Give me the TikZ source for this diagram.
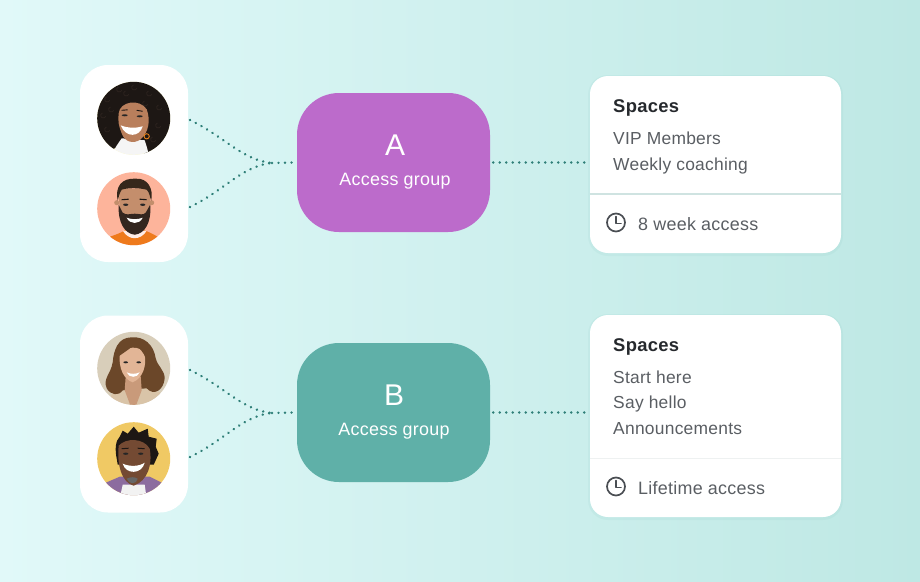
\documentclass[tikz,border=0pt]{standalone}
\usepackage{fontspec}
\setmainfont[LetterSpace=1.5]{Liberation Sans}
\usetikzlibrary{calc,decorations.markings}
\definecolor{bgL}{HTML}{E1F9F9}
\definecolor{bgM}{HTML}{D8F5F3}
\definecolor{bgR}{HTML}{BEE8E4}
\definecolor{dotc}{HTML}{2F7F78}
\definecolor{purp}{HTML}{BC6BCB}
\definecolor{tealc}{HTML}{5FB0A8}
\definecolor{body}{HTML}{5A5E63}
\definecolor{headc}{HTML}{26292D}
\definecolor{clockc}{HTML}{4A4E53}
\definecolor{divA}{HTML}{CFE3E1}
\definecolor{divB}{HTML}{EEF1F1}
\definecolor{hairK}{HTML}{1D1714}
\definecolor{hairT}{HTML}{2E2420}
\definecolor{skinA}{HTML}{B97F5C}
\definecolor{skinB}{HTML}{C48E6C}
\definecolor{skinC}{HTML}{E2B596}
\definecolor{skinCd}{HTML}{C99A7A}
\definecolor{skinD}{HTML}{744A33}
\definecolor{peach}{HTML}{FDB49B}
\definecolor{oranges}{HTML}{EE7A1C}
\definecolor{sand}{HTML}{D8CEBA}
\definecolor{brownh}{HTML}{6B4729}
\definecolor{blazer}{HTML}{D9C4A8}
\definecolor{mustard}{HTML}{F0C964}
\definecolor{plum}{HTML}{8C6C9F}
\definecolor{beardc}{HTML}{33261F}
\tikzset{
  x=1pt,y=-1pt,
  avatarbox/.style={fill=white,rounded corners=28pt,minimum width=108pt,minimum height=197pt,inner sep=0pt},
  groupbox/.style={rounded corners=42pt,minimum width=193pt,minimum height=139pt,inner sep=0pt},
  cardbox/.style={fill=white,rounded corners=18pt,minimum width=251pt,inner sep=0pt},
  cardshade/.style={fill=tealc,opacity=.07,rounded corners=20pt,minimum width=255pt,inner sep=0pt},
  dotline/.style={decoration={markings,mark=between positions 0 and 1 step 6.5pt with {\fill[dotc] (0,0) circle (1.35pt);}},decorate},
  letter/.style={anchor=base,text=white,font=\fontsize{30}{32}\selectfont,inner sep=0pt},
  grouplabel/.style={anchor=base,text=white,font=\fontsize{17.9}{20}\selectfont,inner sep=0pt},
  head/.style={anchor=base west,text=headc,font=\fontsize{18.4}{22}\selectfont\bfseries,inner sep=0pt},
  item/.style={anchor=base west,text=body,font=\fontsize{17.4}{22}\selectfont,inner sep=0pt},
  footitem/.style={anchor=base west,text=body,font=\fontsize{17.9}{22}\selectfont,inner sep=0pt},
  clockring/.style={draw=clockc,line width=1.7pt,circle,minimum size=18pt,inner sep=0pt},
  clockhand/.style={draw=clockc,line width=1.5pt,line cap=round,line join=round},
  eye/.style={fill=black!85},
}
\begin{document}
\begin{tikzpicture}
\useasboundingbox (0,0) rectangle (920,581);
\shade[left color=bgL,middle color=bgM,right color=bgR] (0,0) rectangle (920,581);

% containers
\node[avatarbox] (avA) at (134,163.5) {};
\node[avatarbox] (avB) at (134,414) {};

% connector ends
\coordinate (a1) at (190,120);
\coordinate (a2) at (190,207);
\coordinate (b1) at (190,370);
\coordinate (b2) at (190,457);
\coordinate (ja) at (272,163);
\coordinate (jb) at (272,413);
\node[cardshade,minimum height=181pt] (shA) at (715.5,165.5) {};
\node[cardshade,minimum height=206pt] (shB) at (715.5,417) {};
\node[cardbox,minimum height=177pt] (cardA) at (715.5,164.5) {};
\node[cardbox,minimum height=202pt] (cardB) at (715.5,416) {};
\node[groupbox,fill=purp] (grpA) at (393.5,162.5) {};
\node[groupbox,fill=tealc] (grpB) at (393.5,412.5) {};
\path[dotline] (a1) .. controls (225,137) and (242,160) .. (ja);
\path[dotline] (a2) .. controls (225,190) and (242,166) .. (ja);
\path[dotline] (ja) -- ($(grpA.west)+(-1,0)$);
\path[dotline] (b1) .. controls (225,387) and (242,410) .. (jb);
\path[dotline] (b2) .. controls (225,440) and (242,416) .. (jb);
\path[dotline] (jb) -- ($(grpB.west)+(-1,0)$);
\path[dotline] ($(grpA.east)+(3,0)$) -- (cardA.west |- grpA.east);
\path[dotline] ($(grpB.east)+(3,0)$) -- (cardB.west |- grpB.east);

% group labels
\node[letter] (la) at (395,155) {A};
\node[grouplabel] (ta) at (395,185) {Access group};
\node[letter] (lb) at (394,405) {B};
\node[grouplabel] (tb) at (394,435.5) {Access group};

% card A
\node[head] (sa) at (613,112) {Spaces};
\node[item] (a1t) at (613,144.5) {VIP Members};
\node[item] (a2t) at (613,170) {Weekly coaching};
\draw[divA,line width=1.2pt] (cardA.west |- 0,194) -- (cardA.east |- 0,194);
\node[clockring] (ca) at (616,222.5) {};
\draw[clockhand] (616,216.5) -- (616,223.5) -- (621,223.5);
\node[footitem] (a3t) at (638,230) {8 week access};

% card B
\node[head] (sb) at (613,351) {Spaces};
\node[item] (b1t) at (613,383) {Start here};
\node[item] (b2t) at (613,408) {Say hello};
\node[item] (b3t) at (613,434) {Announcements};
\draw[divB,line width=1pt] (cardB.west |- 0,458) -- (cardB.east |- 0,458);
\node[clockring] (cb) at (616,486.5) {};
\draw[clockhand] (616,480.5) -- (616,487.5) -- (621,487.5);
\node[footitem] (b4t) at (638,494) {Lifetime access};

% portrait 1
\begin{scope}[shift={(133.7,118.3)}]
\clip (0,0) circle (36.5);
\fill[yellow!25!white] (-40,-40) rectangle (40,40);
\fill[hairK] (-38,20) .. controls (-44,-20) and (-25,-40) .. (-2,-40) .. controls (25,-42) and (42,-18) .. (39,12) .. controls (38,28) and (30,36) .. (18,36) -- (-18,30) .. controls (-28,32) and (-36,28) .. (-38,20) -- cycle;
\foreach \hx/\hy in {-24/-18,-12/-28,3/-30,18/-24,28/-10,27/8,-28/-2,-24/12,22/22,-5/-24,14/-14,-20/-8}
  \draw[hairT,line width=.7pt] (\hx,\hy) arc (20:250:2.6);
\fill[white!92!gray] (-22,40) .. controls (-20,30) and (-16,26) .. (-12,20) -- (11,22) .. controls (13,28) and (14,32) .. (16,40) -- cycle;
\fill[skinA] (-15,-5) .. controls (-14,-17) and (6,-20) .. (13,-9) .. controls (17,2) and (15,14) .. (7,21) .. controls (0,26) and (-9,24) .. (-12,15) .. controls (-15,8) and (-16,2) .. (-15,-5) -- cycle;
\fill[white] (-13,7) .. controls (-6,10) and (3,10) .. (9,8) .. controls (6,19) and (-8,20) .. (-13,7) -- cycle;
\fill[eye] (-9,-3) ellipse (3 and 1);
\fill[eye] (6,-2) ellipse (3 and 1);
\draw[hairK,line width=.9pt] (-12,-8) -- (-6,-8.5) (3,-8) -- (9,-7);
\draw[orange!60!brown,line width=.9pt] (13,18) circle (2.6);
\end{scope}

% portrait 2
\begin{scope}[shift={(133.7,208.7)}]
\clip (0,0) circle (36.5);
\fill[peach] (-40,-40) rectangle (40,40);
\fill[oranges] (-24,40) -- (-24,28) .. controls (-18,26) and (-12,24) .. (-8,21) -- (10,21) .. controls (18,25) and (24,27) .. (29,32) -- (27,40) -- cycle;
\fill[white!75!peach] (-11,22) .. controls (-5,32) and (7,32) .. (13,22) -- cycle;
\fill[skinB] (-17,-6) circle (2.5);
\fill[skinB] (18,-6) circle (2.5);
\fill[skinB] (-14,-20) -- (16,-20) .. controls (18,5) and (15,18) .. (1,26) .. controls (-12,18) and (-16,5) .. (-14,-20) -- cycle;
\fill[beardc] (-15,-4) -- (-11,4) .. controls (-7,7) and (-4,5) .. (1,5) .. controls (6,5) and (9,7) .. (12,4) -- (16.5,-4) .. controls (18,14) and (11,25) .. (1,26) .. controls (-9,25) and (-16,14) .. (-15,-4) -- cycle;
\fill[white] (-7,9) .. controls (-2,11) and (4,11) .. (9,9) .. controls (6,16) and (-4,16) .. (-7,9) -- cycle;
\fill[hairK!85!brown] (-16,-8) .. controls (-19,-22) and (-12,-31) .. (2,-30) .. controls (14,-31) and (20,-20) .. (17.5,-8) .. controls (16,-12) and (16,-16) .. (13,-19) .. controls (5,-21) and (-6,-21) .. (-12,-19) .. controls (-14,-16) and (-15,-12) .. (-16,-8) -- cycle;
\fill[eye] (-8,-4) ellipse (2.6 and 1.2);
\fill[eye] (9,-4) ellipse (2.6 and 1.2);
\draw[hairK,line width=1.1pt] (-12,-9) -- (-5,-9.5) (6,-9.5) -- (13,-9);
\end{scope}

% portrait 3
\begin{scope}[shift={(133.7,368.3)}]
\clip (0,0) circle (36.5);
\fill[sand] (-40,-40) rectangle (40,40);
\fill[blazer] (-26,40) -- (-22,26) -- (-8,18) -- (10,18) -- (26,24) -- (30,40) -- cycle;
\fill[brownh] (-2,-31) .. controls (-16,-31) and (-20,-18) .. (-21,-6) .. controls (-23,6) and (-31,10) .. (-27,20) .. controls (-23,27) and (-15,28) .. (-11,22) -- (13,20) .. controls (20,28) and (30,22) .. (31,10) .. controls (31,2) and (24,-2) .. (22,-10) .. controls (20,-24) and (10,-32) .. (-2,-31) -- cycle;
\fill[skinCd] (-8,8) -- (7,8) -- (8,22) -- (2,38) -- (-3,38) -- (-9,22) -- cycle;
\fill[skinC] (-14,-13) .. controls (-8,-22) and (6,-24) .. (11,-14) .. controls (13,-2) and (9,10) .. (-1,14) .. controls (-10,11) and (-15,0) .. (-14,-13) -- cycle;
\fill[brownh] (-15,-12) .. controls (-8,-17) and (0,-22) .. (1,-25) .. controls (6,-20) and (10,-16) .. (12,-10) .. controls (12,-20) and (6,-27) .. (-3,-27) .. controls (-12,-27) and (-16,-20) .. (-15,-12) -- cycle;
\fill[white] (-7,4) .. controls (-3,6) and (2,6) .. (6,4) .. controls (4,10) and (-5,10) .. (-7,4) -- cycle;
\fill[eye] (-8,-6) ellipse (2.3 and 1);
\fill[eye] (5,-6) ellipse (2.3 and 1);
\end{scope}

% portrait 4
\begin{scope}[shift={(133.7,458.7)}]
\clip (0,0) circle (36.5);
\fill[mustard] (-40,-40) rectangle (40,40);
\fill[plum] (-30,40) -- (-28,24) -- (-14,18) -- (16,18) -- (28,24) -- (32,40) -- cycle;
\fill[white!90!gray] (-14,40) -- (-11,26) -- (11,26) -- (13,40) -- cycle;
\fill[hairK] (-17,0) .. controls (-19,-10) and (-18,-18) .. (-14,-22) -- (-11,-28) -- (-6,-25) -- (0,-32) -- (5,-26) -- (14,-30) -- (15,-22) -- (23,-20) -- (22,-12) -- (25,-5) -- (20,6) -- (-16,6) -- cycle;
\fill[skinD] (-15,-13) .. controls (-8,-21) and (10,-21) .. (16,-10) .. controls (19,6) and (14,22) .. (0,27) .. controls (-12,24) and (-17,6) .. (-15,-13) -- cycle;
\fill[white] (-11,5) .. controls (-4,8) and (5,8) .. (11,4) .. controls (8,16) and (-8,16) .. (-11,5) -- cycle;
\fill[black!60] (-7,20) .. controls (-3,18) and (1,18) .. (4,20) .. controls (3,26) and (-5,26) .. (-7,20) -- cycle;
\fill[eye] (-8,-5) ellipse (2.6 and 1.1);
\fill[eye] (7,-5) ellipse (2.6 and 1.1);
\draw[hairK,line width=1pt] (-12,-10) -- (-5,-10.5) (4,-10.5) -- (11,-10);
\end{scope}
\end{tikzpicture}
\end{document}
